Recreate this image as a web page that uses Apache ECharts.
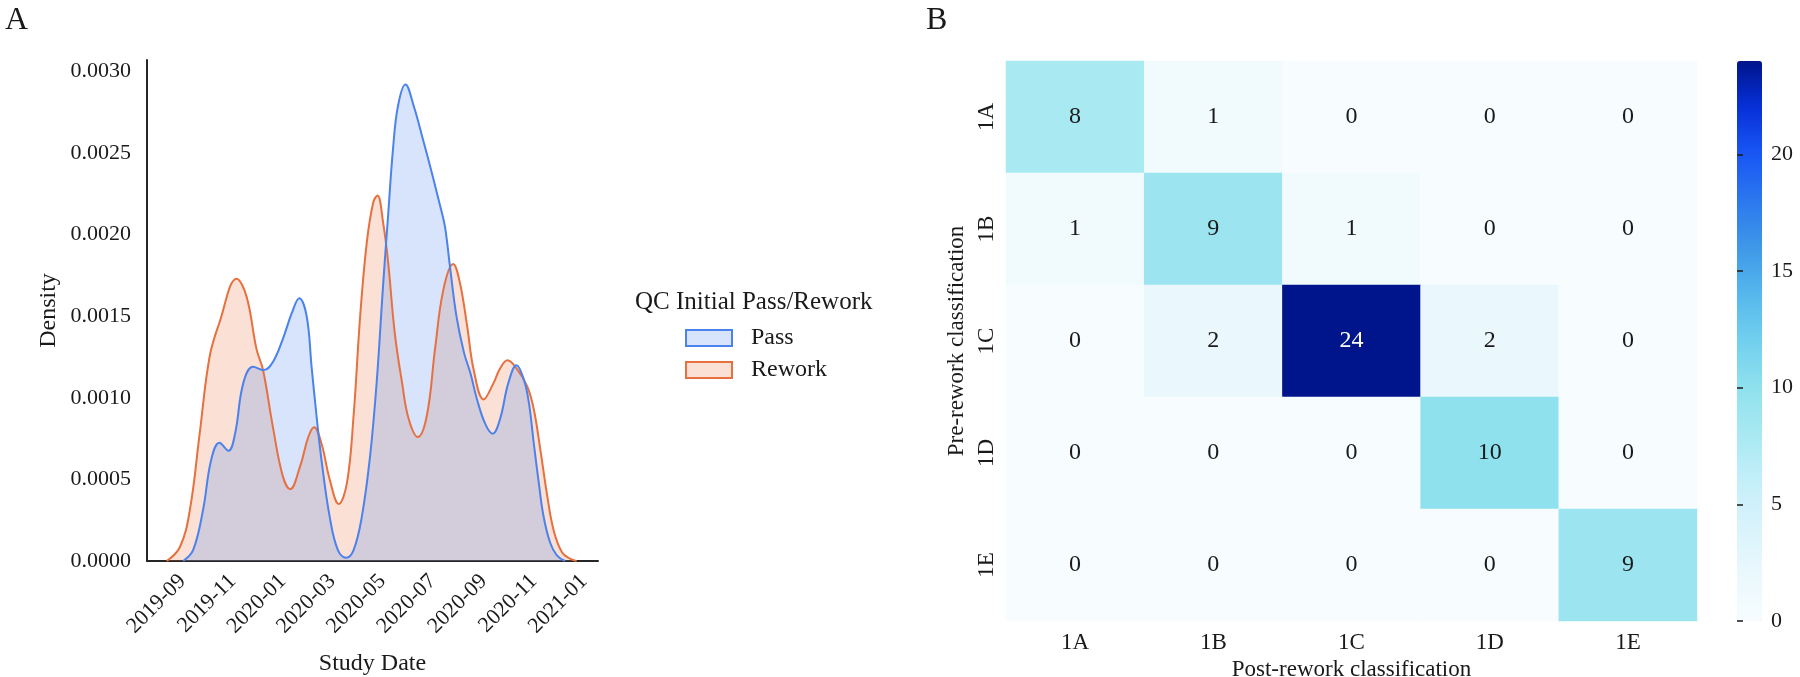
<!DOCTYPE html>
<html>
<head>
<meta charset="utf-8">
<title>QC density and rework confusion matrix</title>
<script src="https://cdn.jsdelivr.net/npm/echarts@6/dist/echarts.min.js"></script>
<style>
  html, body { margin: 0; padding: 0; background: #fff; }
  #chart { width: 1800px; height: 677px; }
</style>
</head>
<body>
<div id="chart"></div>
<script>
// panel A: KDE of study dates
const passDates = ['2019-09-02', '2019-09-14', '2019-09-26', '2019-10-06', '2019-10-16', '2019-10-27',
  '2019-11-04', '2019-11-14', '2019-11-26', '2019-12-09', '2019-12-20', '2020-01-01', '2020-01-12',
  '2020-01-21', '2020-01-30', '2020-02-05', '2020-02-11', '2020-02-17', '2020-02-27', '2020-03-08',
  '2020-03-18', '2020-03-27', '2020-04-06', '2020-04-16', '2020-04-24', '2020-05-02', '2020-05-08',
  '2020-05-14', '2020-05-20', '2020-05-29', '2020-06-08', '2020-06-20', '2020-06-30', '2020-07-10',
  '2020-07-16', '2020-07-22', '2020-07-30', '2020-08-08', '2020-08-16', '2020-08-24', '2020-09-03',
  '2020-09-12', '2020-09-21', '2020-10-01', '2020-10-11', '2020-10-20', '2020-10-26', '2020-11-01',
  '2020-11-07', '2020-11-13', '2020-11-21', '2020-11-29', '2020-12-09']
const passDensity = [0, 0.000066, 0.00031, 0.00062, 0.000725, 0.000676,
  0.00078, 0.00109, 0.00119, 0.00117, 0.00122, 0.00136, 0.00152,
  0.00161, 0.0015, 0.00119, 0.00089, 0.00062, 0.00027, 0.000066,
  0.00002, 0.000066, 0.00027, 0.00064, 0.00109, 0.0017, 0.00212,
  0.00253, 0.00279, 0.00292, 0.00279, 0.00257, 0.00238, 0.00218,
  0.00205, 0.00181, 0.0015, 0.00128, 0.00115, 0.00099, 0.00084,
  0.00078, 0.00087, 0.00109, 0.0012, 0.00111, 0.00097, 0.00072,
  0.00048, 0.00027, 0.00011, 0.000035, 0]

const reworkDates = ['2019-08-13', '2019-08-29', '2019-09-10', '2019-09-22', '2019-10-04', '2019-10-16',
  '2019-11-06', '2019-11-18', '2019-11-30', '2019-12-08', '2019-12-20', '2020-01-01', '2020-01-10',
  '2020-01-22', '2020-02-01', '2020-02-08', '2020-02-17', '2020-02-27', '2020-03-09', '2020-03-19',
  '2020-03-27', '2020-04-04', '2020-04-12', '2020-04-20', '2020-04-25', '2020-05-02', '2020-05-08',
  '2020-05-16', '2020-05-25', '2020-06-02', '2020-06-13', '2020-06-24', '2020-07-04', '2020-07-14',
  '2020-07-26', '2020-08-03', '2020-08-12', '2020-08-20', '2020-09-01', '2020-09-13', '2020-09-21',
  '2020-09-30', '2020-10-11', '2020-10-24', '2020-11-01', '2020-11-09', '2020-11-17', '2020-11-25',
  '2020-12-05', '2020-12-15', '2020-12-23']
const reworkDensity = [0, 0.000086, 0.00031, 0.00078, 0.00125, 0.00146,
  0.00173, 0.00162, 0.0013, 0.00117, 0.00082, 0.00052, 0.00044,
  0.00058, 0.00076, 0.00082, 0.00072, 0.0005, 0.00035, 0.00048,
  0.00089, 0.0015, 0.00195, 0.0022, 0.00224, 0.00207, 0.00183,
  0.0014, 0.00109, 0.00087, 0.00076, 0.00089, 0.0013, 0.00166,
  0.00182, 0.00171, 0.00144, 0.00117, 0.00099, 0.00109, 0.00118,
  0.00123, 0.00118, 0.00107, 0.00093, 0.00068, 0.00041, 0.00019,
  0.000055, 0.000014, 0]

const dateTicks = ['2019-09-01', '2019-11-01', '2020-01-01', '2020-03-01', '2020-05-01',
  '2020-07-01', '2020-09-01', '2020-11-01', '2021-01-01']
const densityTicks = [0, 0.0005, 0.001, 0.0015, 0.002, 0.0025, 0.003]

// panel B: confusion matrix (rows = pre-rework, columns = post-rework)
const classes = ['1A', '1B', '1C', '1D', '1E']
const counts = [
  [8, 1, 0, 0, 0],
  [1, 9, 1, 0, 0],
  [0, 2, 24, 2, 0],
  [0, 0, 0, 10, 0],
  [0, 0, 0, 0, 9]
]
const colorbarTicks = [0, 5, 10, 15, 20]

const FONT = "'Liberation Serif', 'DejaVu Serif', serif"
const INK = '#1a1a1a'
const PASS = '#4b82eb'
const REWORK = '#e6703f'

const ts = s => Date.parse(s + 'T00:00:00Z')
const pairs = (dates, vals) => dates.map((d, i) => [ts(d), vals[i]])

const cells = []
counts.forEach((row, r) => row.forEach((v, c) => {
  cells.push({ value: [c, r, v], label: { color: v > 16 ? '#fff' : INK } })
}))

const chart = echarts.init(document.getElementById('chart'))

chart.setOption({
  animation: false,
  textStyle: { fontFamily: FONT },
  title: [
    { text: 'A', left: 0, top: 0, textStyle: { fontFamily: FONT, fontSize: 32, fontWeight: 'normal', color: INK } },
    { text: 'B', left: 921, top: 0, textStyle: { fontFamily: FONT, fontSize: 32, fontWeight: 'normal', color: INK } },
    { text: 'QC Initial Pass/Rework', left: 630, top: 285, textStyle: { fontFamily: FONT, fontSize: 25, fontWeight: 'normal', color: INK } }
  ],
  legend: {
    orient: 'vertical',
    left: 680,
    top: 321,
    icon: 'rect',
    itemWidth: 46,
    itemHeight: 16,
    itemGap: 8,
    textStyle: { fontFamily: FONT, fontSize: 24, color: INK, padding: [0, 0, 0, 14] },
    data: [
      { name: 'Pass', itemStyle: { color: 'rgba(75,130,235,0.22)', borderColor: PASS, borderWidth: 2 } },
      { name: 'Rework', itemStyle: { color: 'rgba(230,112,63,0.22)', borderColor: REWORK, borderWidth: 2 } }
    ]
  },
  grid: [
    { left: 147, top: 60, width: 451, height: 501, outerBoundsMode: 'none' },
    { left: 1006, top: 61, width: 691, height: 560, outerBoundsMode: 'none' },
    { left: 1737, top: 61, width: 25, height: 560, outerBoundsMode: 'none' }
  ],
  xAxis: [
    {
      gridIndex: 0,
      type: 'value',
      min: ts('2019-07-20'),
      max: ts('2021-01-18'),
      splitLine: { show: false },
      axisTick: { show: false },
      axisLine: { lineStyle: { color: '#262626', width: 2 } },
      axisLabel: {
        customValues: dateTicks.map(ts),
        formatter: v => new Date(v).toISOString().slice(0, 7),
        rotate: 45,
        margin: 17,
        fontFamily: FONT,
        fontSize: 22,
        color: INK
      },
      name: 'Study Date',
      nameLocation: 'middle',
      nameGap: 91,
      nameTextStyle: { fontFamily: FONT, fontSize: 24, color: INK }
    },
    {
      gridIndex: 1,
      type: 'category',
      data: classes,
      axisLine: { show: false },
      axisTick: { show: false },
      axisLabel: { fontFamily: FONT, fontSize: 23, color: INK, margin: 10 },
      name: 'Post-rework classification',
      nameLocation: 'middle',
      nameGap: 34,
      nameTextStyle: { fontFamily: FONT, fontSize: 23, color: INK }
    },
    { gridIndex: 2, type: 'value', show: false }
  ],
  yAxis: [
    {
      gridIndex: 0,
      type: 'value',
      min: 0,
      max: 0.00307,
      splitLine: { show: false },
      axisTick: { show: false },
      axisLine: { show: true, lineStyle: { color: '#262626', width: 2 } },
      axisLabel: {
        customValues: densityTicks,
        formatter: v => v.toFixed(4),
        margin: 16,
        fontFamily: FONT,
        fontSize: 22,
        color: INK
      },
      name: 'Density',
      nameLocation: 'middle',
      nameGap: 86,
      nameTextStyle: { fontFamily: FONT, fontSize: 24, color: INK }
    },
    {
      gridIndex: 1,
      type: 'category',
      data: classes,
      inverse: true,
      axisLine: { show: false },
      axisTick: { show: false },
      axisLabel: { fontFamily: FONT, fontSize: 23, color: INK, rotate: 90, margin: 8 },
      name: 'Pre-rework classification',
      nameLocation: 'middle',
      nameGap: 38,
      nameRotate: 90,
      nameTextStyle: { fontFamily: FONT, fontSize: 23, color: INK }
    },
    {
      gridIndex: 2,
      type: 'value',
      position: 'right',
      min: 0,
      max: 24,
      z: 10,
      splitLine: { show: false },
      axisLine: { show: false },
      axisTick: { show: true, customValues: colorbarTicks, length: 6, lineStyle: { color: INK, width: 1.5 } },
      axisLabel: { customValues: colorbarTicks, margin: 9, fontFamily: FONT, fontSize: 22, color: INK }
    }
  ],
  visualMap: {
    type: 'continuous',
    seriesIndex: 2,
    min: 0,
    max: 24,
    calculable: false,
    left: 1737,
    top: 61,
    padding: 0,
    itemWidth: 25,
    itemHeight: 560,
    text: null,
    showLabel: false,
    inRange: {
      color: ['#f7fdff', '#eaf8fd', '#d9f3fb', '#c4effa', '#a8e9f2', '#8fe1ee', '#72d0ee',
        '#55b8ec', '#3f98e8', '#2b78ee', '#1957f5', '#0730d8', '#00158c']
    }
  },
  series: [
    {
      name: 'Rework',
      type: 'line',
      xAxisIndex: 0,
      yAxisIndex: 0,
      data: pairs(reworkDates, reworkDensity),
      smooth: 0.4,
      showSymbol: false,
      color: REWORK,
      lineStyle: { color: REWORK, width: 2 },
      areaStyle: { color: REWORK, opacity: 0.22 }
    },
    {
      name: 'Pass',
      type: 'line',
      xAxisIndex: 0,
      yAxisIndex: 0,
      data: pairs(passDates, passDensity),
      smooth: 0.4,
      showSymbol: false,
      color: PASS,
      lineStyle: { color: PASS, width: 2 },
      areaStyle: { color: PASS, opacity: 0.22 }
    },
    {
      name: 'counts',
      type: 'heatmap',
      xAxisIndex: 1,
      yAxisIndex: 1,
      data: cells,
      label: { show: true, fontFamily: FONT, fontSize: 24 },
      itemStyle: { borderWidth: 0 },
      emphasis: { disabled: true }
    }
  ]
})
</script>
</body>
</html>
